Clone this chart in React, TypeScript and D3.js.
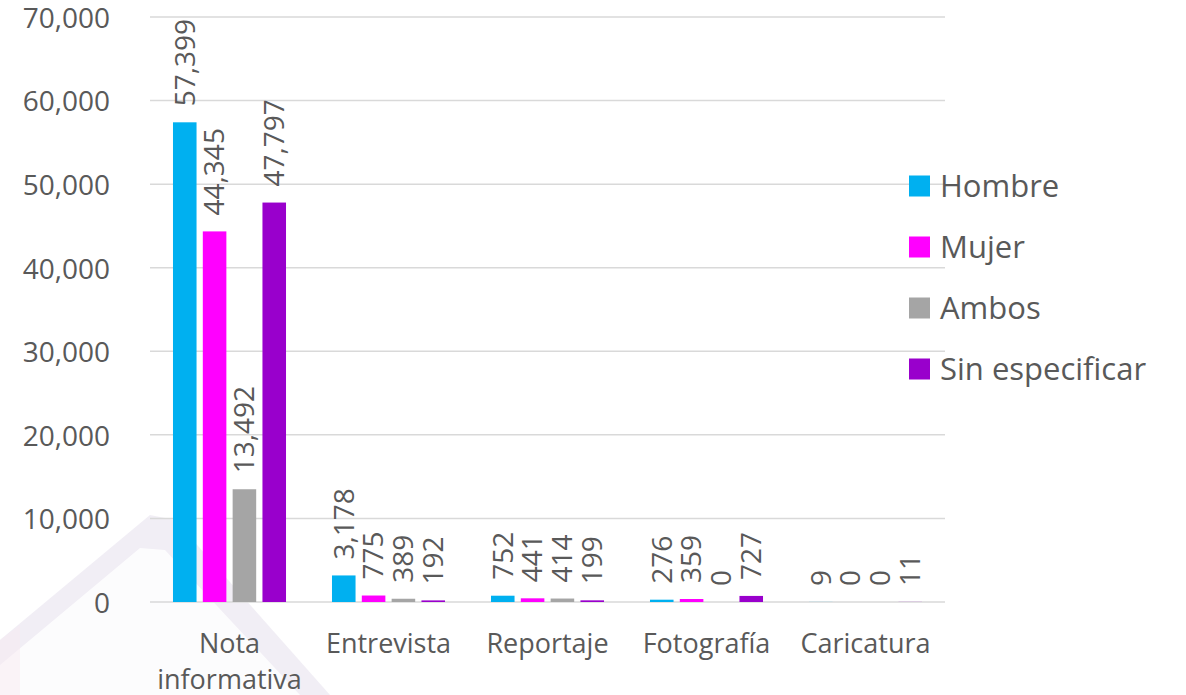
import * as d3 from "d3";
import { useEffect, useRef } from "react";

const categories = ["Nota informativa", "Entrevista", "Reportaje", "Fotografía", "Caricatura"];
const series = ["Hombre", "Mujer", "Ambos", "Sin especificar"];
const hombre = [57399, 3178, 752, 276, 9];
const mujer = [44345, 775, 441, 359, 0];
const ambos = [13492, 389, 414, 0, 0];
const sinEspecificar = [47797, 192, 199, 727, 11];
const yTicks = [0, 10000, 20000, 30000, 40000, 50000, 60000, 70000];
const colors = ["#00B0F0", "#FF00FF", "#A5A5A5", "#9900CC"];

const App = () => {
  const ref = useRef<SVGSVGElement>(null);

  useEffect(() => {
    document.body.style.margin = "0";
    const width = 1186;
    const height = 695;
    const font = "'Open Sans', sans-serif";
    const textColor = "#595959";
    const values = [hombre, mujer, ambos, sinEspecificar];

    const svg = d3.select(ref.current);
    svg.selectAll("*").remove();
    svg.attr("width", width).attr("height", height);

    // marca de agua tenue al fondo
    const wm = svg.append("g");
    wm.append("path")
      .attr("d", "M0,695 L0,640 L150,515 L175,520 L330,695 Z")
      .attr("fill", "#ebe7f1")
      .attr("opacity", 0.7);
    wm.append("path")
      .attr("d", "M0,695 L0,665 L140,548 L165,550 L300,695 Z")
      .attr("fill", "#ffffff")
      .attr("opacity", 0.8);
    wm.append("path")
      .attr("d", "M0,640 L20,625 L20,695 L0,695 Z")
      .attr("fill", "#f8eaf2")
      .attr("opacity", 0.5);

    const x0 = d3.scaleBand<string>().domain(categories).range([150, 945]);
    const x1 = d3.scaleBand<string>().domain(series)
      .range([20, 139]).paddingInner(0.21).paddingOuter(0.1);
    const y = d3.scaleLinear().domain([0, 70000]).range([602, 17]);

    // líneas de cuadrícula
    svg.append("g")
      .selectAll("line")
      .data(yTicks)
      .enter().append("line")
      .attr("x1", 150)
      .attr("x2", 945)
      .attr("y1", d => y(d))
      .attr("y2", d => y(d))
      .attr("stroke", "#d9d9d9")
      .attr("stroke-width", 1.5);

    // eje Y
    svg.append("g")
      .selectAll("text")
      .data(yTicks)
      .enter().append("text")
      .attr("x", 110)
      .attr("y", d => y(d) + 1)
      .attr("dy", "0.35em")
      .attr("text-anchor", "end")
      .attr("font-family", font)
      .attr("font-size", 28)
      .attr("fill", textColor)
      .text(d => d3.format(",")(d));

    // barras y etiquetas
    series.forEach((s, si) => {
      const g = svg.append("g");
      g.selectAll("rect")
        .data(values[si])
        .enter().append("rect")
        .attr("x", (d, i) => x0(categories[i])! + x1(s)!)
        .attr("y", d => y(d))
        .attr("width", x1.bandwidth())
        .attr("height", d => y(0) - y(d))
        .attr("fill", colors[si]);
      g.selectAll("text")
        .data(values[si])
        .enter().append("text")
        .attr("transform", (d, i) => {
          const cx = x0(categories[i])! + x1(s)! + x1.bandwidth() / 2;
          return `translate(${cx},${y(d) - 16}) rotate(-90)`;
        })
        .attr("dy", "0.35em")
        .attr("font-family", font)
        .attr("font-size", 28)
        .attr("fill", textColor)
        .text(d => d3.format(",")(d));
    });

    // eje X
    const xl = svg.append("g");
    categories.forEach(c => {
      const cx = x0(c)! + x0.bandwidth() / 2;
      const words = c === "Nota informativa" ? ["Nota", "informativa"] : [c];
      words.forEach((w, wi) => {
        xl.append("text")
          .attr("x", cx)
          .attr("y", 653 + wi * 36)
          .attr("text-anchor", "middle")
          .attr("font-family", font)
          .attr("font-size", 27)
          .attr("fill", textColor)
          .text(w);
      });
    });

    // leyenda
    const lg = svg.append("g");
    series.forEach((s, si) => {
      const cy = 186 + si * 61;
      lg.append("rect")
        .attr("x", 909)
        .attr("y", cy - 10.5)
        .attr("width", 21)
        .attr("height", 21)
        .attr("fill", colors[si]);
      lg.append("text")
        .attr("x", 940)
        .attr("y", cy)
        .attr("dy", "0.35em")
        .attr("font-family", font)
        .attr("font-size", 31)
        .attr("fill", textColor)
        .text(s);
    });
  }, []);

  return <svg ref={ref} style={{ display: "block" }} />;
};

export default App;
